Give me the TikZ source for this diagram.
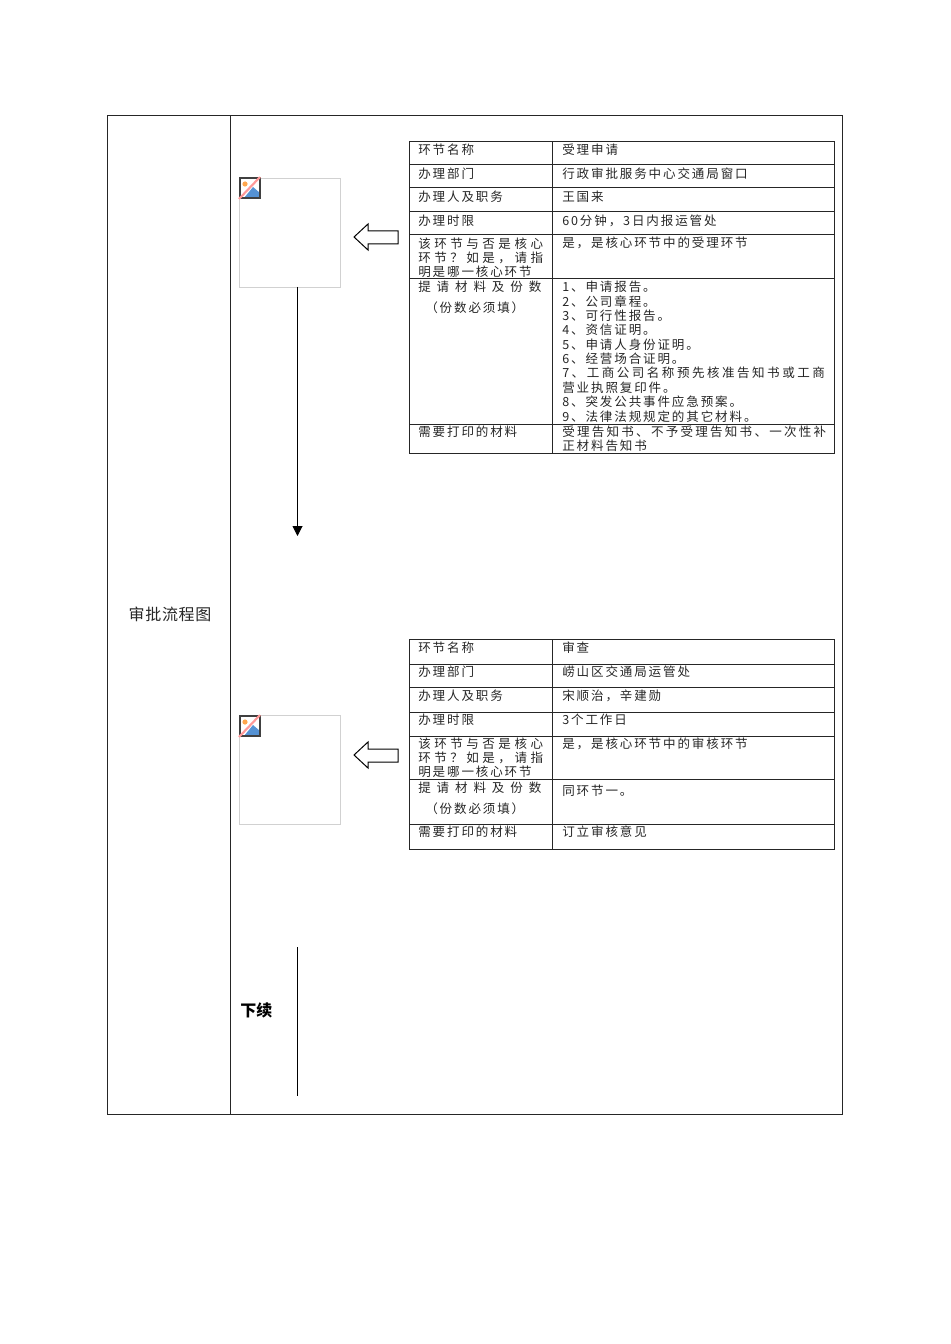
\documentclass[tikz,border=0pt]{standalone}
\usepackage{fontspec}
\setmainfont[LetterSpace=15]{Noto Sans CJK SC}
\usetikzlibrary{arrows.meta, positioning}
\newcommand{\fitline}[2]{{\addfontfeature{LetterSpace=#1}#2}}
\tikzset{
    rule/.style={line width=0.75pt, black!85},
    celltext/.style={anchor=west, inner sep=0pt, font=\fontsize{9.4pt}{11pt}\selectfont, text=black!85},
    imgbox/.style={draw=black!18, line width=0.75pt, fill=white, minimum width=76pt, minimum height=82pt, inner sep=0pt},
    brokenicon/.pic={
        \fill[white] (0,0) rectangle (20,20);
        \fill[orange!70] (5,6) circle[radius=2.6];
        \fill[cyan!55!blue!70] (4,20) -- (13,9) -- (20,15) -- (20,20) -- cycle;
        \draw[black!75, line width=0.9pt] (0,0) rectangle (20,20);
        \draw[red!40, line width=1.6pt] (-1,21) -- (20,-1);
    },
    hollowarrow/.pic={
        \draw[black, line width=0.75pt, fill=white] (0,0) -- (14,-13) -- (14,-6) -- (44,-6) -- (44,7) -- (14,7) -- (14,13) -- cycle;
    }
}

\begin{document}
\begin{tikzpicture}[x=0.75pt, y=-0.75pt]
\useasboundingbox (0,0) rectangle (950,1344);
% outer frame
\draw[rule] (107,115.5) rectangle (842.5,1114);
\draw[rule] (230.5,115.5) -- (230.5,1114);
\node[inner sep=0pt, font=\fontsize{12pt}{14pt}\selectfont\addfontfeature{LetterSpace=4}, text=black!85] (title) at (170,614) {审批流程图};

% first table
\draw[rule] (409,141.5) rectangle (834,453);
\draw[rule] (552,141.5) -- (552,453);
\foreach \y in {165,188,212,235,279,424} {
    \draw[rule] (409,\y) -- (834,\y);
}
\foreach \y/\a/\b in {150/环节名称/受理申请,174/办理部门/行政审批服务中心交通局窗口,197/办理人及职务/王国来,221/办理时限/60分钟，3日内报运管处,432/需要打印的材料/{\fitline{18}{受理告知书、不予受理告知书、一次性补}}} {
    \node[celltext] (la\y) at (418,\y) {\a};
    \node[celltext] (ra\y) at (562,\y) {\b};
}
\node[celltext] (corea) at (418,244) {\fitline{28}{该环节与否是核心}};
\node[celltext] (coreb) at (418,258) {\fitline{28}{环节？如是，请指}};
\node[celltext] (corec) at (418,272) {明是哪一核心环节};
\node[celltext] (corer) at (562,243) {是，是核心环节中的受理环节};
\node[celltext] (mata) at (418,287) {\fitline{47}{提请材料及份数}};
\node[celltext] (matb) at (425,308) {（份数必须填）};
\foreach \y/\b in {287/1、申请报告。,302/2、公司章程。,316/3、可行性报告。,330/4、资信证明。,345/5、申请人身份证明。,359/6、经营场合证明。,373/{\fitline{20}{7、工商公司名称预先核准告知书或工商}},388/营业执照复印件。,402/8、突发公共事件应急预案。,417/9、法律法规规定的其它材料。,446/正材料告知书} {
    \node[celltext] (rb\y) at (562,\y) {\b};
}

% second table
\draw[rule] (409,639) rectangle (834,849);
\draw[rule] (552,639) -- (552,849);
\foreach \y in {664,687,712,736,779,824} {
    \draw[rule] (409,\y) -- (834,\y);
}
\foreach \y/\a/\b in {648/环节名称/审查,672/办理部门/崂山区交通局运管处,696/办理人及职务/宋顺治，辛建勋,720/办理时限/3个工作日,832/需要打印的材料/订立审核意见} {
    \node[celltext] (lc\y) at (418,\y) {\a};
    \node[celltext] (rc\y) at (562,\y) {\b};
}
\node[celltext] (cored) at (418,744) {\fitline{28}{该环节与否是核心}};
\node[celltext] (coree) at (418,758) {\fitline{28}{环节？如是，请指}};
\node[celltext] (coref) at (418,772) {明是哪一核心环节};
\node[celltext] (coret) at (562,744) {是，是核心环节中的审核环节};
\node[celltext] (matc) at (418,788) {\fitline{47}{提请材料及份数}};
\node[celltext] (matd) at (425,809) {（份数必须填）};
\node[celltext] (mats) at (562,791) {同环节一。};

% picture boxes
\node[imgbox] (imga) at (290,233) {};
\node[imgbox] (imgb) at (290,770) {};
\pic at (240,178) {brokenicon};
\pic at (240,716) {brokenicon};
\pic at (354,237) {hollowarrow};
\pic at (354,755) {hollowarrow};

% connectors
\coordinate (downa) at (297.5,287);
\coordinate (downb) at (297.5,536);
\coordinate (downc) at (297,947);
\coordinate (downd) at (297,1096);
\draw[rule, black, -{Triangle[width=7.5pt,length=7.5pt]}] (downa) -- (downb);
\draw[rule, black] (downc) -- (downd);
\node[anchor=west, inner sep=0pt, font=\fontsize{12pt}{14pt}\selectfont\bfseries\addfontfeature{LetterSpace=0}] (more) at (240,1010) {下续};
\end{tikzpicture}
\end{document}
